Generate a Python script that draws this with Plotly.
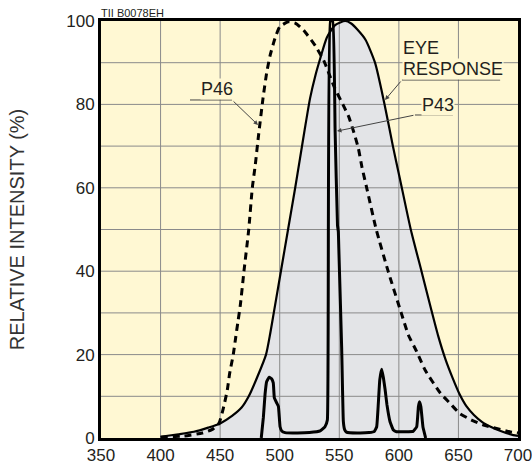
import plotly.graph_objects as go

# ---------------- data ----------------
X_TICKS = [350, 400, 450, 500, 550, 600, 650, 700]
Y_TICKS = [0, 20, 40, 60, 80, 100]
GRID_X = [400, 450, 500, 550, 600, 650]
GRID_Y = [10, 20, 30, 40, 50, 60, 70, 80, 90]

EYE_NM = [400, 415, 428, 440, 450, 460, 468, 474, 481, 488.5, 492, 495, 501, 507, 513, 517, 521,
          525.5, 530, 534, 539.5, 546.5, 555, 560, 565, 572, 580, 588, 595, 601, 610, 619,
          627, 633, 639, 645, 651, 657, 663, 670, 677, 686, 696, 700]
EYE_VAL = [0.3, 0.9, 1.5, 2.5, 3.5, 5.3, 7.3, 10, 14.5, 20, 25, 30, 40, 50, 60, 67, 74,
           81.5, 87, 91, 96, 99, 100, 99.4, 98, 95.5, 90, 80, 70, 62, 50, 40,
           31, 24.5, 19, 14.5, 10.5, 7.5, 5.5, 3.8, 2.7, 1.6, 0.7, 0.5]

P46_NM = [400, 420, 435, 443, 449, 453, 456, 458, 461, 463, 465, 467, 470, 474, 477, 479.5,
          482, 486, 489, 492, 496, 500, 507, 513, 520, 530, 537, 546, 553, 558, 562, 566,
          569, 573, 581, 591, 602, 608, 615, 622, 635, 643, 651, 661, 671, 682, 693, 700]
P46_VAL = [0.2, 0.5, 1.2, 2, 3.5, 7.5, 11.5, 15.5, 20, 24, 28, 32, 40, 50, 60, 65.5,
           72, 81.5, 87.5, 91.8, 95.8, 98.6, 99.8, 99.5, 97.8, 94, 90.5, 84, 80, 77, 73.5, 69.5,
           65, 60, 50, 40, 30, 24.7, 20.7, 16.3, 10.7, 8.3, 5.9, 4.3, 3.1, 2.3, 1.5, 1.2]

P43_NM = [484.5, 486.3, 487.7, 489, 491.2, 493.2, 494.6, 495.5, 497.5, 498.9, 500.3, 501.7,
          504.5, 515, 525, 534, 538, 540, 542.5, 544.5, 546.5, 548.5, 549.2, 549.6, 552,
          553.4, 554.5, 556, 565, 575, 579.5, 581.4, 582.6, 584, 585.6, 587, 588.5, 590,
          592.6, 595.4, 598, 605, 612, 615, 616.4, 617.3, 618.5, 620.2, 622.5]
P43_VAL = [0, 5, 10.5, 13.5, 14.6, 14.2, 13.2, 9.6, 8.4, 7.6, 2.7, 1.7,
           1.3, 1.2, 1.3, 1.7, 2.7, 4.3, 100, 100, 73.5, 51, 49.5, 45.5, 21.6,
           4, 2, 1.4, 1.2, 1.3, 1.6, 2.7, 7.5, 14, 16.5, 14.5, 11.5, 8,
           3.9, 1.9, 1.5, 1.5, 1.6, 2.7, 7.5, 8.7, 7.5, 2.7, 0]

X_RANGE = [350, 700]
Y_RANGE = [0, 100]

# ---------------- styles ----------------
BG = "#FFF8D3"
FILL = "#E3E4E7"
GRID = "#8A8A8A"
INK = "#231F20"
LEAD = "#444444"
FONT = "Liberation Sans, Arial, sans-serif"

fig = go.Figure()

# eye response fill (under the grid)
fig.add_trace(go.Scatter(x=EYE_NM, y=EYE_VAL, mode="lines", fill="tozeroy",
                         fillcolor=FILL, line=dict(width=0, shape="spline", smoothing=0.6),
                         hoverinfo="skip"))

# grid lines, one trace per tick value, so they sit above the grey fill
for v in GRID_X:
    fig.add_trace(go.Scatter(x=[v, v], y=Y_RANGE, mode="lines",
                             line=dict(color=GRID, width=1)))
for v in GRID_Y:
    fig.add_trace(go.Scatter(x=X_RANGE, y=[v, v], mode="lines",
                             line=dict(color=GRID, width=1)))

# eye response outline
fig.add_trace(go.Scatter(x=EYE_NM, y=EYE_VAL, mode="lines",
                         line=dict(color="black", width=2.2, shape="spline", smoothing=0.6),
                         name="EYE RESPONSE"))
# P46 dashed
fig.add_trace(go.Scatter(x=P46_NM, y=P46_VAL, mode="lines",
                         line=dict(color="black", width=3, dash="7px,5px",
                                   shape="spline", smoothing=0.5),
                         name="P46"))
# P43 solid
fig.add_trace(go.Scatter(x=P43_NM, y=P43_VAL, mode="lines",
                         line=dict(color="black", width=3, shape="spline", smoothing=0.3),
                         name="P43"))

lab_font = dict(family=FONT, size=18, color=INK)


def label(text, x, y):
    return dict(text=text, x=x, y=y, xanchor="left", yanchor="middle", showarrow=False,
                font=lab_font, bgcolor=BG, borderpad=0)


def leader(x, y, ax, ay):
    return dict(text="", x=x, y=y, ax=ax, ay=ay, axref="x", ayref="y", showarrow=True,
                arrowhead=2, arrowsize=0.9, arrowwidth=1, arrowcolor=LEAD)


annotations = [
    dict(text="TII B0078EH", xref="paper", yref="paper", x=0, y=1, xanchor="left",
         yanchor="bottom", showarrow=False, font=dict(family=FONT, size=11, color=INK),
         xshift=-2),
    label("EYE", 603.0, 93.5),
    label("RESPONSE", 603.0, 88.4),
    label("P43", 619.0, 79.8),
    label("P46", 432.7, 83.8),
    leader(588.4, 81.06, 602.6, 85.85),
    leader(548.1, 73.6, 613.5, 77.46),
    leader(481.8, 75.06, 460.0, 81.06),
]

shapes = [
    dict(type="line", x0=602.6, x1=685, y0=85.85, y1=85.85, line=dict(color=LEAD, width=1)),
    dict(type="line", x0=613.5, x1=645.4, y0=77.46, y1=77.46, line=dict(color=LEAD, width=1)),
    dict(type="line", x0=424.7, x1=460, y0=81.06, y1=81.06, line=dict(color=LEAD, width=1)),
]

tickfont = dict(family=FONT, size=17, color=INK)

fig.update_layout(
    width=532, height=466,
    margin=dict(l=101, r=14, t=21, b=28),
    paper_bgcolor="white", plot_bgcolor=BG,
    showlegend=False,
    annotations=annotations, shapes=shapes,
    font=dict(family=FONT, color=INK),
    xaxis=dict(range=X_RANGE, tickvals=X_TICKS, ticktext=[str(v) for v in X_TICKS],
               showgrid=False, zeroline=False, showline=True, linecolor="black",
               linewidth=3, mirror=True, ticks="", automargin=False,
               ticklabeloverflow="allow", tickfont=tickfont),
    yaxis=dict(range=Y_RANGE, tickvals=Y_TICKS, ticktext=[str(v) for v in Y_TICKS],
               showgrid=False, zeroline=False, showline=True, linecolor="black",
               linewidth=3, mirror=True, ticks="", automargin=False,
               ticklabeloverflow="allow", tickfont=tickfont,
               title=dict(text="RELATIVE INTENSITY (%)",
                          font=dict(family=FONT, size=20, color="#333"), standoff=37)),
)

fig.write_html("out.html")
